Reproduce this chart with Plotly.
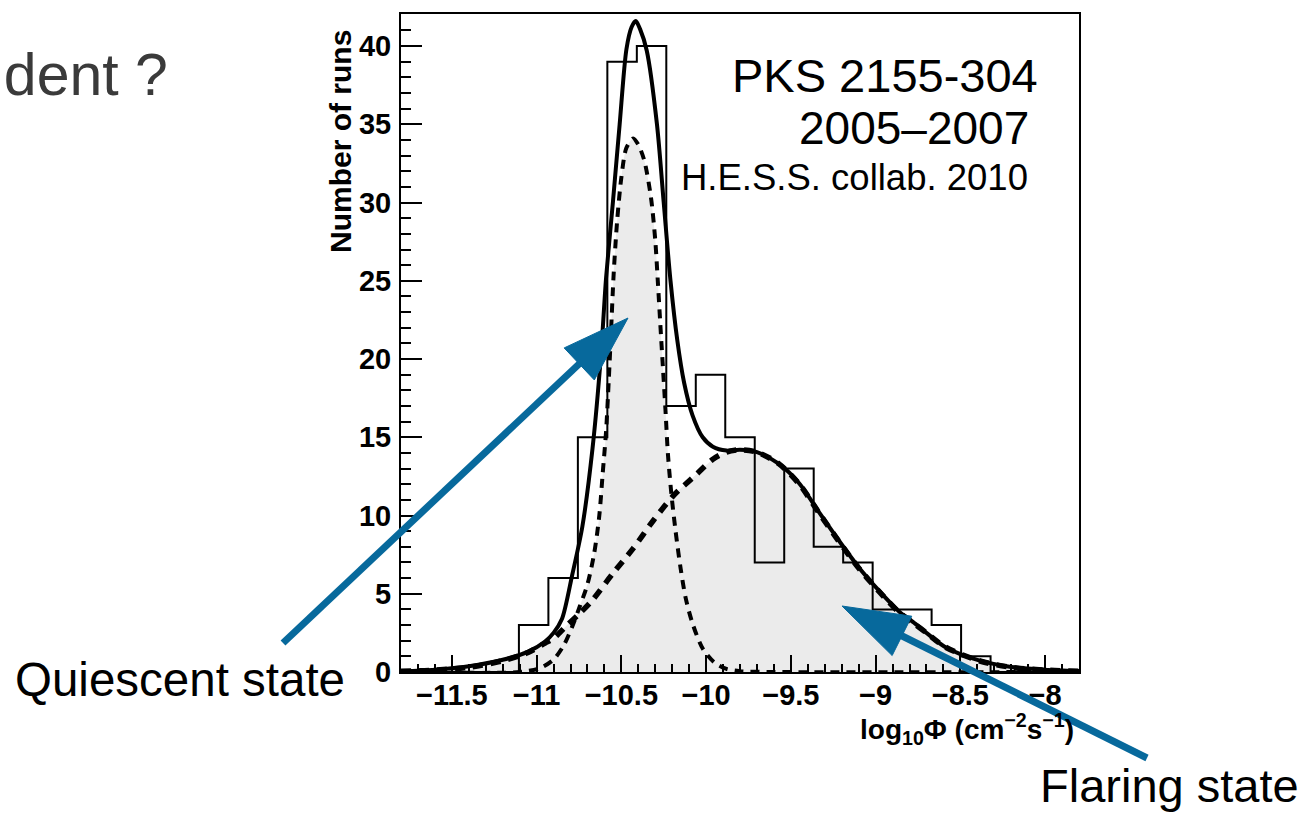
import numpy as np
import plotly.graph_objects as go

# ---------------- data ----------------
bin_lo, bin_hi, n_bins = -11.8, -7.8, 23
counts = [0, 0, 0, 0, 3, 6, 15, 39, 40, 17, 19, 15, 7, 13, 8, 7, 4, 4, 3, 1, 0, 0, 0]

total_x = [-11.80, -11.60, -11.40, -11.20, -11.05, -10.95, -10.90, -10.85, -10.79, -10.73,
           -10.67, -10.62, -10.59, -10.55, -10.51, -10.47, -10.44, -10.415, -10.39, -10.35,
           -10.29, -10.25, -10.21, -10.17, -10.13, -10.08, -10.02, -9.96, -9.88, -9.80,
           -9.70, -9.57, -9.45, -9.33, -9.22, -9.10, -8.98, -8.86, -8.78, -8.70,
           -8.59, -8.39, -8.20, -8.00, -7.80]
total_y = [0.05, 0.15, 0.37, 0.78, 1.30, 1.95, 2.5, 3.4, 6.2, 9.3,
           14.3, 20.3, 25.2, 30.0, 35.0, 39.8, 41.2, 41.6, 41.1, 39.7,
           35.0, 30.0, 25.0, 21.2, 18.5, 16.4, 15.0, 14.4, 14.15, 14.2,
           14.05, 13.3, 12.05, 10.15, 8.45, 6.7, 5.2, 3.85, 3.2, 2.5,
           1.6, 0.74, 0.32, 0.15, 0.07]

quiet_x = [-11.80, -11.10, -10.98, -10.90, -10.84, -10.79, -10.745, -10.70, -10.66, -10.63,
           -10.61, -10.59, -10.575, -10.562, -10.545, -10.525, -10.50, -10.47, -10.43, -10.40,
           -10.365, -10.325, -10.30, -10.285, -10.27, -10.255, -10.24, -10.225, -10.205, -10.18,
           -10.15, -10.12, -10.08, -10.02, -9.95, -9.88, -9.80, -9.60, -7.80]
quiet_y = [0.0, 0.0, 0.25, 0.8, 1.7, 2.9, 4.2, 5.6, 7.6, 10.0,
           12.7, 15.4, 18.5, 21.5, 25.5, 28.8, 31.6, 33.5, 34.1, 33.7,
           32.7, 30.3, 27.6, 25.0, 22.2, 19.5, 16.8, 13.9, 11.4, 9.0,
           6.6, 4.7, 3.1, 1.5, 0.6, 0.2, 0.05, 0.0, 0.0]

flare_x = [-11.80, -11.60, -11.40, -11.20, -11.05, -10.95, -10.90, -10.82, -10.745, -10.67,
           -10.55, -10.43, -10.31, -10.19, -10.06, -9.96, -9.88, -9.80, -9.70, -9.57,
           -9.45, -9.33, -9.22, -9.10, -8.98, -8.86, -8.78, -8.70, -8.59, -8.39,
           -8.20, -8.00, -7.80]
flare_y = [0.05, 0.12, 0.30, 0.72, 1.25, 1.85, 2.15, 3.0, 3.75, 4.6,
           6.3, 7.9, 9.7, 11.3, 12.6, 13.6, 14.05, 14.2, 14.05, 13.3,
           12.0, 10.1, 8.4, 6.65, 5.15, 3.8, 3.15, 2.5, 1.6, 0.72,
           0.3, 0.12, 0.05]

x_tick_vals = [-11.5, -11, -10.5, -10, -9.5, -9, -8.5, -8]
x_tick_text = ["\u221211.5", "\u221211", "\u221210.5", "\u221210", "\u22129.5", "\u22129", "\u22128.5", "\u22128"]
y_tick_vals = [0, 5, 10, 15, 20, 25, 30, 35, 40]

legend_lines = ["PKS 2155-304", "2005\u20132007", "H.E.S.S. collab. 2010"]

# ---------------- geometry helpers ----------------
PL, PT, PW, PH = 401, 14, 678, 658
FIG_W, FIG_H = 1305, 813


def to_paper(px, py):
    return (px - PL) / PW, (PT + PH - py) / PH


FONT = "Liberation Sans, Arial, sans-serif"
FILL = "#ebebeb"
BLUE = "#07699c"

edges = np.linspace(bin_lo, bin_hi, n_bins + 1)
step_x = [edges[0]] + list(edges)
step_y = [0] + list(counts) + [0]

fig = go.Figure()

# grey fills under the two components
for xs, ys in [(flare_x, flare_y), (quiet_x, quiet_y)]:
    fig.add_trace(go.Scatter(x=xs, y=ys, mode="lines", fill="tozeroy", fillcolor=FILL,
                             line=dict(width=0, shape="spline", smoothing=0.8),
                             hoverinfo="skip", showlegend=False))

# histogram outline
fig.add_trace(go.Scatter(x=step_x, y=step_y, mode="lines",
                         line=dict(color="black", width=2, shape="hv"),
                         hoverinfo="skip", showlegend=False))

# component curves
fig.add_trace(go.Scatter(x=flare_x, y=flare_y, mode="lines",
                         line=dict(color="black", width=5.5, dash="10px,8px", shape="spline", smoothing=0.8),
                         showlegend=False))
fig.add_trace(go.Scatter(x=quiet_x, y=quiet_y, mode="lines",
                         line=dict(color="black", width=4, dash="9px,7px", shape="spline", smoothing=0.8),
                         showlegend=False))
# total fit
fig.add_trace(go.Scatter(x=total_x, y=total_y, mode="lines",
                         line=dict(color="black", width=4, shape="spline", smoothing=0.8),
                         showlegend=False))

tickfont = dict(family=FONT, size=29, color="black", weight="bold")

fig.update_layout(
    width=FIG_W, height=FIG_H,
    margin=dict(l=PL, r=FIG_W - PL - PW, t=PT, b=FIG_H - PT - PH, pad=0),
    paper_bgcolor="white", plot_bgcolor="white",
    showlegend=False,
    xaxis=dict(range=[bin_lo, bin_hi], showgrid=False, zeroline=False,
               showline=True, linecolor="black", linewidth=2, mirror=True,
               ticks="inside", ticklen=17, tickwidth=2, tickcolor="black",
               tickmode="array", tickvals=x_tick_vals, ticktext=x_tick_text,
               minor=dict(ticks="inside", ticklen=8, tickwidth=2, tickcolor="black",
                          tick0=-11.8, dtick=0.1, showgrid=False),
               tickfont=tickfont, ticklabelstandoff=-4),
    yaxis=dict(range=[0, 42.05], showgrid=False, zeroline=False,
               showline=True, linecolor="black", linewidth=2, mirror=True,
               ticks="inside", ticklen=21, tickwidth=2, tickcolor="black",
               tickmode="array", tickvals=y_tick_vals,
               minor=dict(ticks="inside", ticklen=10, tickwidth=2, tickcolor="black",
                          tick0=0, dtick=1, showgrid=False),
               tickfont=tickfont, ticklabelstandoff=2),
)

annotations = []


def add_text(text, px, py, size, xanchor, color="black", weight="normal", angle=0):
    x, y = to_paper(px, py)
    annotations.append(dict(text=text, x=x, y=y, xref="paper", yref="paper",
                            xanchor=xanchor, yanchor="middle", showarrow=False,
                            textangle=angle,
                            font=dict(family=FONT, size=size, color=color, weight=weight)))


# legend block
add_text(legend_lines[0], 1040, 75, 47, "right")
add_text(legend_lines[1], 1031, 128, 46, "right")
add_text(legend_lines[2], 1030, 177, 36.5, "right")

# axis titles (ROOT style, right/top aligned)
add_text("<b>log<sub>10</sub>\u03a6 (cm<sup>\u22122</sup>s<sup>\u22121</sup>)</b>", 1076, 729, 28, "right")
add_text("<b>Number of runs</b>", 340, 142, 30, "center", angle=-90)

# slide texts
add_text("ndent ?", 170, 75, 59, "right", color="#3a3a3a")
add_text("Quiescent state", 13, 680, 47.5, "left")
add_text("Flaring state", 1038, 786, 47, "left")

fig.update_layout(annotations=annotations)

# blue arrows (tail pixel, tip pixel)
arrows = [((283, 643), (628, 318)), ((1147, 758), (842, 606))]
shapes = []
HEAD_LEN, HEAD_HALF, SHAFT_W = 67, 22, 7
for (tx, ty), (hx, hy) in arrows:
    dx, dy = hx - tx, hy - ty
    L = (dx ** 2 + dy ** 2) ** 0.5
    ux, uy = dx / L, dy / L
    bx, by = hx - ux * HEAD_LEN, hy - uy * HEAD_LEN
    nx, ny = -uy, ux
    c1 = (bx + nx * HEAD_HALF, by + ny * HEAD_HALF)
    c2 = (bx - nx * HEAD_HALF, by - ny * HEAD_HALF)
    p_t = to_paper(tx, ty)
    p_b = to_paper(bx + ux * 2, by + uy * 2)
    shapes.append(dict(type="line", xref="paper", yref="paper",
                       x0=p_t[0], y0=p_t[1], x1=p_b[0], y1=p_b[1],
                       line=dict(color=BLUE, width=SHAFT_W)))
    pts = [to_paper(hx, hy), to_paper(*c1), to_paper(*c2)]
    path = "M {:.5f},{:.5f} L {:.5f},{:.5f} L {:.5f},{:.5f} Z".format(
        pts[0][0], pts[0][1], pts[1][0], pts[1][1], pts[2][0], pts[2][1])
    shapes.append(dict(type="path", xref="paper", yref="paper", path=path,
                       fillcolor=BLUE, line=dict(color=BLUE, width=1)))
fig.update_layout(shapes=shapes)

fig.write_html("out.html")
